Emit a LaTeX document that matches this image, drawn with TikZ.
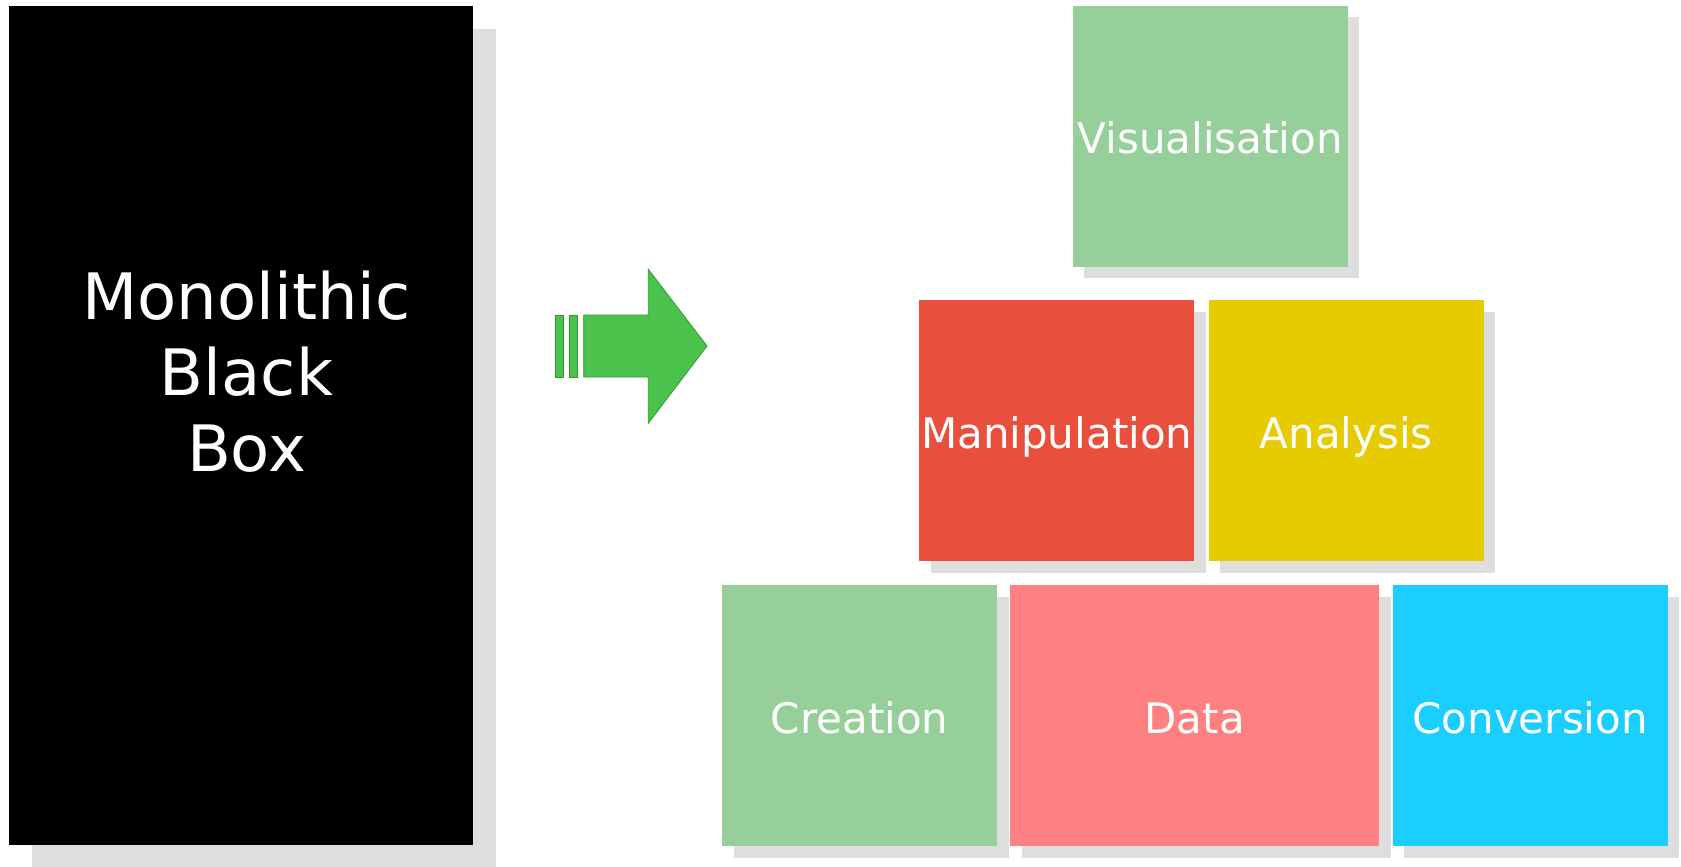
\documentclass[tikz,border=0pt]{standalone}
\usepackage{fontspec}
\setmainfont{DejaVu Sans}
\usetikzlibrary{shadows}
\definecolor{shadowgray}{HTML}{DEDEDE}
\definecolor{softgreen}{HTML}{97CF9B}
\definecolor{tomato}{HTML}{E84F3C}
\definecolor{mustard}{HTML}{E6CB00}
\definecolor{salmon}{HTML}{FF8080}
\definecolor{skycyan}{HTML}{1ACEFF}
\definecolor{arrowgreen}{HTML}{4BC24B}
\definecolor{arrowedge}{HTML}{2E9A2E}
\begin{document}
\begin{tikzpicture}[x=1pt,y=-1pt,
  block/.style={rectangle, inner sep=0pt, anchor=north west, text=white,
    minimum width=275pt, minimum height=261pt,
    font=\fontsize{42}{50}\selectfont, text height=36pt, text depth=1pt,
    drop shadow={shadow xshift=11.5pt, shadow yshift=-11.5pt, fill=shadowgray, opacity=1}},
  bigblock/.style={rectangle, inner sep=0pt, anchor=north west, fill=black,
    minimum width=464pt, minimum height=839.5pt,
    drop shadow={shadow xshift=23pt, shadow yshift=-23pt, fill=shadowgray, opacity=1}},
  bigtext/.style={inner sep=0pt, anchor=north, text=white, align=center,
    font=\fontsize{64}{76}\selectfont},
  arrowpart/.style={fill=arrowgreen, draw=arrowedge, line width=0.8pt, line join=miter}
]
\useasboundingbox (0,0) rectangle (1681,867);
\fill[white] (0,0) rectangle (1681,867);

% monolithic black box
\node[bigblock] (bb) at (9,5.5) {};
\node[bigtext] (bbt) at (246.5,271) {Monolithic\\Black\\Box};

% arrow
\draw[arrowpart] (555.7,315) rectangle (563.3,377);
\draw[arrowpart] (569.3,315) rectangle (577,377);
\draw[arrowpart] (583.7,315) -- (648.3,315) -- (648.3,269.3) -- (707,346)
  -- (648.3,423.3) -- (648.3,377) -- (583.7,377) -- cycle;

% modules
\node[block, fill=softgreen] (vis) at (1072.5,5.5) {Visualisation};
\node[block, fill=tomato] (man) at (919,300) {Manipulation};
\node[block, fill=mustard] (ana) at (1208.5,300) {Analysis};
\node[block, fill=softgreen] (cre) at (722,585) {Creation};
\node[block, fill=salmon, minimum width=369pt] (dat) at (1010,585) {Data};
\node[block, fill=skycyan] (con) at (1392.5,585) {Conversion};
\end{tikzpicture}
\end{document}
